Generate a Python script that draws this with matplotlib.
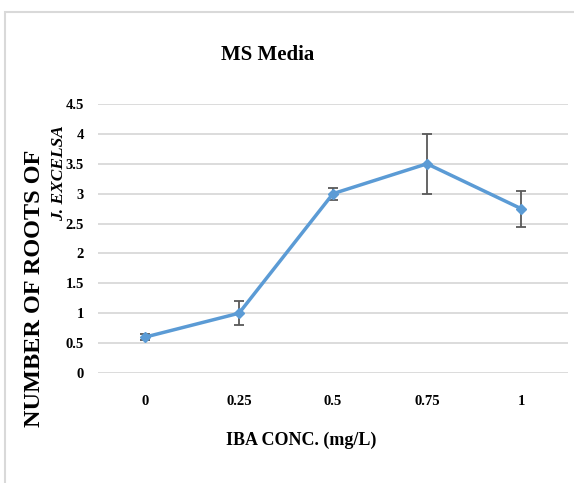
import matplotlib
matplotlib.use("Agg")
import matplotlib.pyplot as plt
import numpy as np
from matplotlib.patches import Rectangle

# data
conc_labels = ["0", "0.25", "0.5", "0.75", "1"]
roots_mean = [0.6, 1.0, 3.0, 3.5, 2.75]
roots_err = [0.05, 0.2, 0.1, 0.5, 0.3]
y_ticks = [0, 0.5, 1, 1.5, 2, 2.5, 3, 3.5, 4, 4.5]

plt.rcParams["font.family"] = ["Liberation Serif", "DejaVu Serif"]
plt.rcParams["font.weight"] = "bold"

fig = plt.figure(figsize=(5.74, 4.83), dpi=100)
W, H = 574, 483

# light grey frame of the chart area
fig.patches.append(Rectangle((5 / W, -0.1), 1.2, 1 - 12 / H + 0.1,
                             transform=fig.transFigure, fill=False,
                             edgecolor="#d9d9d9", linewidth=1.5))

ax = fig.add_axes([98 / W, 110 / H, 470 / W, 269 / H])
x = np.arange(len(conc_labels))

ax.errorbar(x, roots_mean, yerr=roots_err, fmt="none", ecolor="#595959",
            elinewidth=1.3, capsize=3.5, capthick=1.3, zorder=3)
ax.plot(x, roots_mean, color="#5b9bd5", linewidth=2.5, marker="D",
        markersize=5.5, zorder=4)

ax.set_xlim(-0.5, len(conc_labels) - 0.5)
ax.set_ylim(0, 4.5)
ax.set_yticks(y_ticks)
ax.set_yticklabels([f"{t:g}" for t in y_ticks])
ax.set_xticks(x)
ax.set_xticklabels(conc_labels)
ax.grid(axis="y", color="#d9d9d9", linewidth=1.3)
ax.set_axisbelow(True)
for s in ax.spines.values():
    s.set_visible(False)
ax.tick_params(length=0, labelsize=10.5)
ax.tick_params(axis="y", pad=10)
ax.tick_params(axis="x", pad=16)

fig.text(268 / W, 1 - 55 / H, "MS Media", ha="center", va="center",
         fontsize=15, fontweight="bold")
fig.text(301 / W, 1 - 440 / H, "IBA CONC. (mg/L)", ha="center", va="center",
         fontsize=13, fontweight="bold")
fig.text(35 / W, 1 - 288 / H, "NUMBER OF ROOTS OF", rotation=90,
         ha="center", va="center", fontsize=17.5, fontweight="bold")
fig.text(59 / W, 1 - 173 / H, "J. EXCELSA", rotation=90, ha="center",
         va="center", fontsize=12.5, fontweight="bold", fontstyle="italic")

fig.savefig("out.png", dpi=100)
